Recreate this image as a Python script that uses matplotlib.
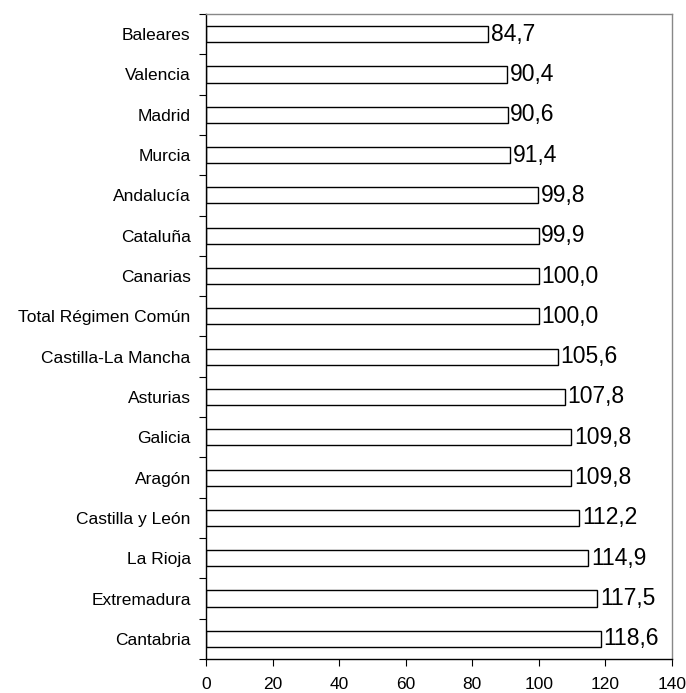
import matplotlib
matplotlib.use("Agg")
import matplotlib.pyplot as plt
import numpy as np

plt.rcParams['font.family'] = ['Liberation Sans', 'DejaVu Sans']

# regions listed top to bottom
regions = ["Baleares", "Valencia", "Madrid", "Murcia", "Andalucía", "Cataluña",
           "Canarias", "Total Régimen Común", "Castilla-La Mancha", "Asturias",
           "Galicia", "Aragón", "Castilla y León", "La Rioja", "Extremadura",
           "Cantabria"]
values = [84.7, 90.4, 90.6, 91.4, 99.8, 99.9, 100.0, 100.0, 105.6, 107.8,
          109.8, 109.8, 112.2, 114.9, 117.5, 118.6]
xticks = [0, 20, 40, 60, 80, 100, 120, 140]

fig = plt.figure(figsize=(6.86, 6.93), dpi=100)
ax = fig.add_axes([0.3003, 0.0491, 0.6793, 0.9307])

n = len(regions)
ypos = np.arange(n)[::-1]
ax.barh(ypos, values, height=0.4, color="white", edgecolor="black", linewidth=1.0)

for y, v in zip(ypos, values):
    ax.text(v + 0.8, y, f"{v:.1f}".replace(".", ","), va="center", ha="left",
            fontsize=16.5)

ax.set_xlim(0, 140)
ax.set_ylim(-0.5, n - 0.5)
ax.set_xticks(xticks)
ax.set_xticklabels([str(t) for t in xticks], fontsize=12.5)
ax.tick_params(axis="x", direction="out", length=5, width=0.8, pad=8)

# category labels at bar centres, tick marks between bars
ax.set_yticks(ypos)
ax.set_yticklabels(regions, fontsize=12.5)
ax.tick_params(axis="y", which="major", length=0, pad=11)
ax.set_yticks(np.arange(-0.5, n), minor=True)
ax.tick_params(axis="y", which="minor", direction="out", length=5, width=0.8)

ax.spines["left"].set_color("black")
ax.spines["bottom"].set_color("black")
ax.spines["top"].set_color("#888888")
ax.spines["right"].set_color("#888888")
for s in ax.spines.values():
    s.set_linewidth(1.0)

fig.savefig("out.png", dpi=100)
